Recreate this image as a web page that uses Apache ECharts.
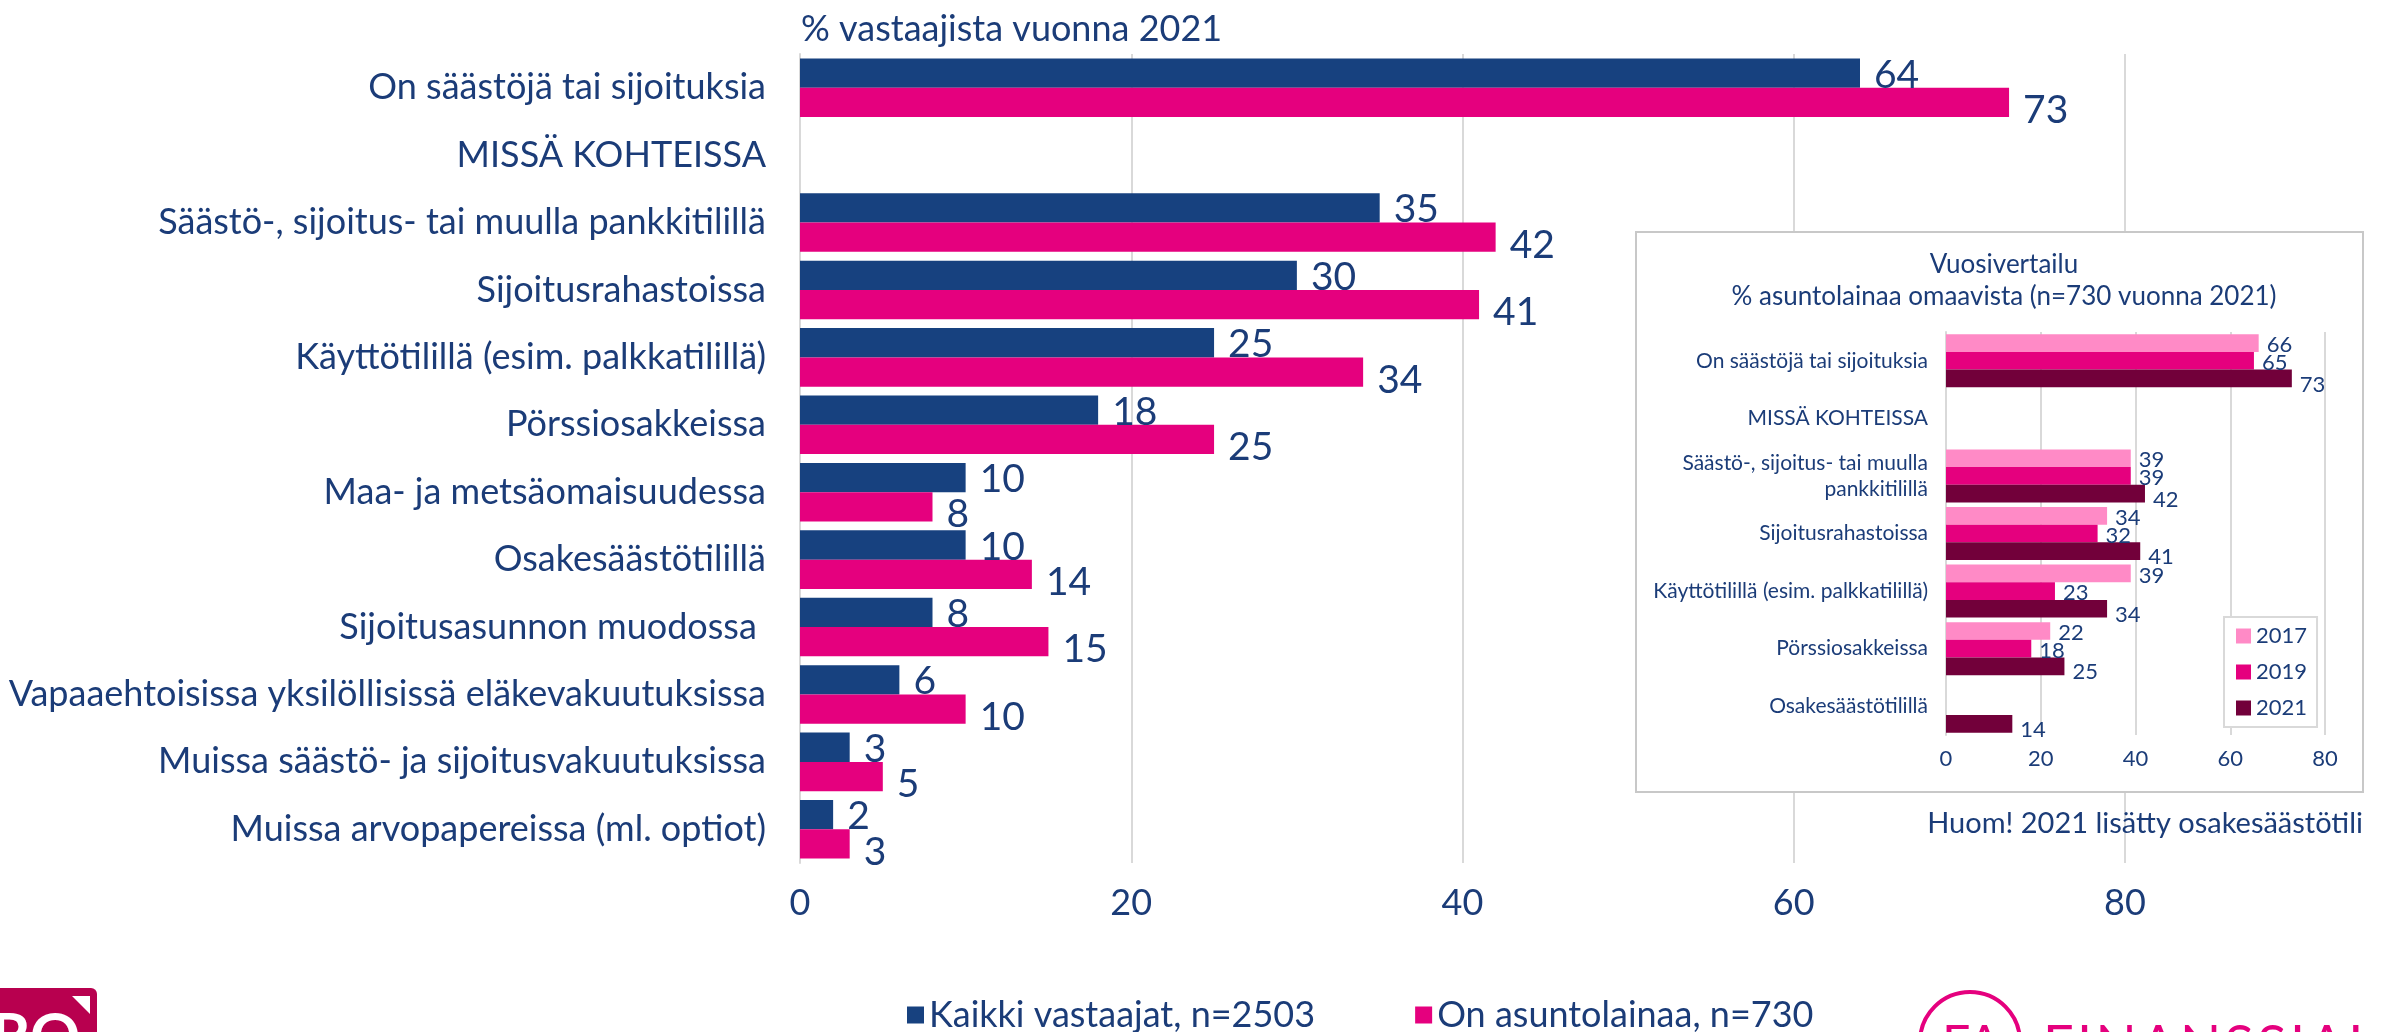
<!DOCTYPE html>
<html>
<head>
<meta charset="utf-8">
<script src="https://cdn.jsdelivr.net/npm/echarts@6/dist/echarts.min.js"></script>
<style>
  html, body { margin: 0; padding: 0; background: #fff; }
  #chart { width: 2389px; height: 1032px; }
</style>
</head>
<body>
<div id="chart"></div>
<script>
// main chart data (% of respondents, 2021)
var categories = [
  'On säästöjä tai sijoituksia',
  'MISSÄ KOHTEISSA',
  'Säästö-, sijoitus- tai muulla pankkitilillä',
  'Sijoitusrahastoissa',
  'Käyttötilillä (esim. palkkatilillä)',
  'Pörssiosakkeissa',
  'Maa- ja metsäomaisuudessa',
  'Osakesäästötilillä',
  'Sijoitusasunnon muodossa ',
  'Vapaaehtoisissa yksilöllisissä eläkevakuutuksissa',
  'Muissa säästö- ja sijoitusvakuutuksissa',
  'Muissa arvopapereissa (ml. optiot)'
];
var allRespondents = [64, null, 35, 30, 25, 18, 10, 10, 8, 6, 3, 2];
var mortgageHolders = [73, null, 42, 41, 34, 25, 8, 14, 15, 10, 5, 3];
var mainSeriesNames = ['Kaikki vastaajat, n=2503', 'On asuntolainaa, n=730'];

// inset: year comparison among mortgage holders
var insetCategories = [
  'On säästöjä tai sijoituksia',
  'MISSÄ KOHTEISSA',
  'Säästö-, sijoitus- tai muulla\npankkitilillä',
  'Sijoitusrahastoissa',
  'Käyttötilillä (esim. palkkatilillä)',
  'Pörssiosakkeissa',
  'Osakesäästötilillä'
];
var years = ['2017', '2019', '2021'];
var y2017 = [66, null, 39, 34, 39, 22, null];
var y2019 = [65, null, 39, 32, 23, 18, null];
var y2021 = [73, null, 42, 41, 34, 25, 14];

var textColor = '#1b3c78';
var fontName = 'Lato, "Open Sans", sans-serif';

var chart = echarts.init(document.getElementById('chart'));

function valueLabel(size, dist, offsetY) {
  return {
    show: true, position: 'right', distance: dist, offset: [0, offsetY],
    color: textColor, fontSize: size, fontFamily: fontName
  };
}

var option = {
  animation: false,
  textStyle: { fontFamily: fontName, color: textColor },
  title: [
    { text: '% vastaajista vuonna 2021', left: 796, top: 6,
      textStyle: { fontSize: 36, fontWeight: 'normal', color: textColor, fontFamily: fontName } },
    { text: 'Vuosivertailu\n% asuntolainaa omaavista (n=730 vuonna 2021)', left: 1999, top: 244,
      textAlign: 'center', z: 10,
      textStyle: { fontSize: 26, lineHeight: 32, fontWeight: 'normal', color: textColor, fontFamily: fontName } }
  ],
  legend: [
    { data: mainSeriesNames, left: 902, top: 992, itemWidth: 17, itemHeight: 17, itemGap: 100,
      icon: 'rect', textStyle: { fontSize: 36, color: textColor, fontFamily: fontName } },
    { data: years, orient: 'vertical', left: 2224, top: 617, itemWidth: 15, itemHeight: 15, itemGap: 14,
      icon: 'rect', padding: [8, 10, 8, 12], borderColor: '#d9d9d9', borderWidth: 2, z: 10,
      backgroundColor: '#fff',
      textStyle: { fontSize: 22, color: textColor, fontFamily: fontName } }
  ],
  grid: [
    { left: 800, width: 1325, top: 54, bottom: 169 },
    { left: 1946, width: 379, top: 332, bottom: 297 }
  ],
  xAxis: [
    { gridIndex: 0, type: 'value', min: 0, max: 80, interval: 20,
      axisLine: { show: false }, axisTick: { show: false },
      splitLine: { lineStyle: { color: '#d9d9d9', width: 2 } },
      axisLabel: { fontSize: 36, color: textColor, margin: 22, fontFamily: fontName } },
    { gridIndex: 1, type: 'value', min: 0, max: 80, interval: 20, z: 5,
      axisLine: { show: false }, axisTick: { show: false },
      splitLine: { lineStyle: { color: '#d9d9d9', width: 2 } },
      axisLabel: { fontSize: 22, color: textColor, margin: 13, fontFamily: fontName } }
  ],
  yAxis: [
    { gridIndex: 0, type: 'category', data: categories, inverse: true,
      axisLine: { lineStyle: { color: '#d9d9d9', width: 2 } }, axisTick: { show: false },
      axisLabel: { fontSize: 36, color: textColor, margin: 34, fontFamily: fontName } },
    { gridIndex: 1, type: 'category', data: insetCategories, inverse: true, z: 5,
      axisLine: { lineStyle: { color: '#d9d9d9', width: 2 } }, axisTick: { show: false },
      axisLabel: { fontSize: 21, color: textColor, margin: 18, lineHeight: 26, fontFamily: fontName } }
  ],
  graphic: [
    { type: 'rect', z: 1, shape: { x: 1636, y: 232, width: 727, height: 560 },
      style: { fill: '#fff', stroke: '#c8c8c8', lineWidth: 2 } },
    { type: 'text', z: 10, style: { x: 2363, y: 824, text: 'Huom! 2021 lisätty osakesäästötili',
      align: 'right', verticalAlign: 'middle', fontSize: 29, fill: textColor, fontFamily: fontName } },
    // left logo
    { type: 'rect', z: 10, shape: { x: -10, y: 988, width: 107, height: 60, r: 6 },
      style: { fill: '#b8004f' } },
    { type: 'polygon', z: 11, shape: { points: [[72, 996], [90, 996], [90, 1014]] },
      style: { fill: '#fff' } },
    { type: 'text', z: 11, style: { x: 80, y: 1006, text: 'PRO', align: 'right', verticalAlign: 'top',
      fontSize: 62, fontWeight: 'bold', fill: '#fff', fontFamily: fontName } },
    // right logo
    { type: 'circle', z: 10, shape: { cx: 1970, cy: 1042, r: 50 },
      style: { fill: 'none', stroke: '#e5007e', lineWidth: 4 } },
    { type: 'text', z: 10, style: { x: 1942, y: 1020, text: 'FA', verticalAlign: 'top',
      fontSize: 50, fill: '#e5007e', fontFamily: fontName } },
    { type: 'text', z: 10, style: { x: 2043, y: 1020, text: 'F\u200aI\u200aN\u200aA\u200aN\u200aS\u200aS\u200aI\u200aA\u200aL\u200aA',
      verticalAlign: 'top', fontSize: 54, fill: '#e5007e', fontFamily: fontName } }
  ],
  series: [
    { name: mainSeriesNames[0], type: 'bar', xAxisIndex: 0, yAxisIndex: 0, data: allRespondents,
      itemStyle: { color: '#17417f' }, barGap: '0%', barCategoryGap: '13%', label: valueLabel(39, 14, 2) },
    { name: mainSeriesNames[1], type: 'bar', xAxisIndex: 0, yAxisIndex: 0, data: mortgageHolders,
      itemStyle: { color: '#e5007e' }, barGap: '0%', barCategoryGap: '13%', label: valueLabel(39, 14, 8) },
    { name: years[0], type: 'bar', xAxisIndex: 1, yAxisIndex: 1, data: y2017, z: 6,
      itemStyle: { color: '#ff8ac6' }, barGap: '0%', barCategoryGap: '8%', label: valueLabel(22, 8, 2) },
    { name: years[1], type: 'bar', xAxisIndex: 1, yAxisIndex: 1, data: y2019, z: 6,
      itemStyle: { color: '#e5007e' }, barGap: '0%', barCategoryGap: '8%', label: valueLabel(22, 8, 2) },
    { name: years[2], type: 'bar', xAxisIndex: 1, yAxisIndex: 1, data: y2021, z: 6,
      itemStyle: { color: '#72003a' }, barGap: '0%', barCategoryGap: '8%', label: valueLabel(22, 8, 6) }
  ]
};

chart.setOption(option);
</script>
</body>
</html>
